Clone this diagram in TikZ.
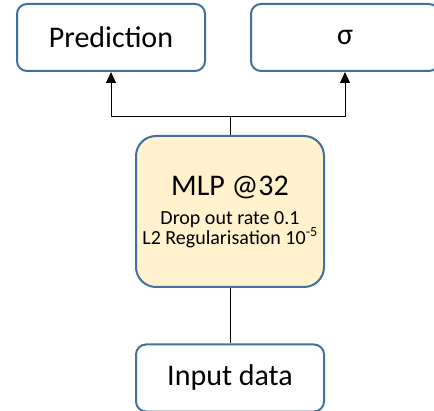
\documentclass[tikz,border=0pt]{standalone}
\usepackage{fontspec}
\setmainfont{Carlito}
\usetikzlibrary{arrows.meta}
\definecolor{bord}{HTML}{41719C}
\definecolor{mlpfill}{HTML}{FFF2CC}
\begin{document}
\begin{tikzpicture}[x=1pt,y=1pt,
  box/.style={draw=bord, line width=2pt, rounded corners=10pt, fill=white,
    minimum width=188pt, minimum height=67pt, inner sep=0pt,
    font=\fontsize{30}{36}\selectfont},
  conn/.style={draw=black, line width=1pt},
  arr/.style={conn, -{Triangle[width=10pt,length=11pt]}}]
\useasboundingbox (0,0) rectangle (434,410);
\clip (0,0) rectangle (434,410);
\node[box] (pred) at (111,372.5) {Prediction};
\node[box] (sig) at (345,372.5) {σ};
\node[box, fill=mlpfill, rounded corners=20pt, minimum height=151pt, align=center]
  (mlp) at (230,198.5)
  {\fontsize{30}{30}\selectfont MLP @32\\[-7pt]
   \fontsize{20}{20}\selectfont Drop out rate 0.1\\[-16pt]
   \fontsize{20}{20}\selectfont L2 Regularisation 10\textsuperscript{-5}};
\node[box] (inp) at (230,32) {Input data};
\coordinate (split) at (230,293);
\draw[conn] (mlp.north) -- (split);
\draw[arr] (split) -| (pred.south);
\draw[arr] (split) -| (sig.south);
\draw[conn] (inp.north) -- (mlp.south);
\end{tikzpicture}
\end{document}
